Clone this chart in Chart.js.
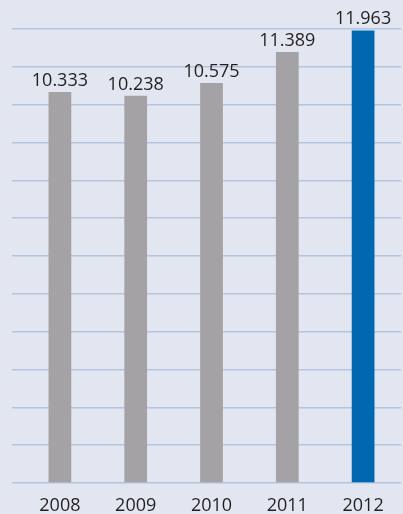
<!DOCTYPE html>
<html>
<head>
<meta charset="utf-8">
<script src="https://cdn.jsdelivr.net/npm/chart.js@4"></script>
<style>
  html, body { margin: 0; padding: 0; background: #e1e6f1; }
  #wrap { width: 403px; height: 514px; }
</style>
</head>
<body>
<div id="wrap"><canvas id="grafico"></canvas></div>
<script>
const anos = ['2008', '2009', '2010', '2011', '2012'];
const valores = [10333, 10238, 10575, 11389, 11963];
const coresBarras = ['#a4a2a5', '#a4a2a5', '#a4a2a5', '#a4a2a5', '#0067b1'];
const eixoMax = 12000;
const eixoPasso = 1000;

const fmt = v => v.toLocaleString('de-DE');

// valores em cima das barras
const rotulos = {
    id: 'rotulos',
    afterDatasetsDraw(chart) {
        const ctx = chart.ctx;
        const meta = chart.getDatasetMeta(0);
        ctx.save();
        ctx.font = '18px "Open Sans"';
        ctx.fillStyle = '#231f20';
        ctx.textAlign = 'center';
        ctx.textBaseline = 'alphabetic';
        meta.data.forEach((bar, i) => {
            ctx.fillText(fmt(valores[i]), bar.x, bar.y - 6);
        });
        ctx.restore();
    }
};

new Chart(document.getElementById('grafico'), {
    type: 'bar',
    data: {
        labels: anos,
        datasets: [{
            data: valores,
            backgroundColor: coresBarras,
            borderWidth: 0,
            barPercentage: 0.3,
            categoryPercentage: 1,
        }]
    },
    options: {
        responsive: true,
        maintainAspectRatio: false,
        animation: false,
        layout: { padding: { top: 29, left: 12, right: 2, bottom: 0 } },
        plugins: { legend: { display: false }, tooltip: { enabled: false } },
        scales: {
            x: {
                grid: { display: false },
                border: { display: false },
                ticks: { color: '#231f20', font: { family: 'Open Sans', size: 18 }, padding: 4 },
                afterFit: ax => { ax.height = 31; }
            },
            y: {
                min: 0,
                max: eixoMax,
                ticks: { stepSize: eixoPasso, display: false },
                grid: { color: '#b3c5dd', lineWidth: 1.5, drawTicks: true, tickLength: 10 },
                border: { display: false }
            }
        }
    },
    plugins: [rotulos]
});
</script>
</body>
</html>
